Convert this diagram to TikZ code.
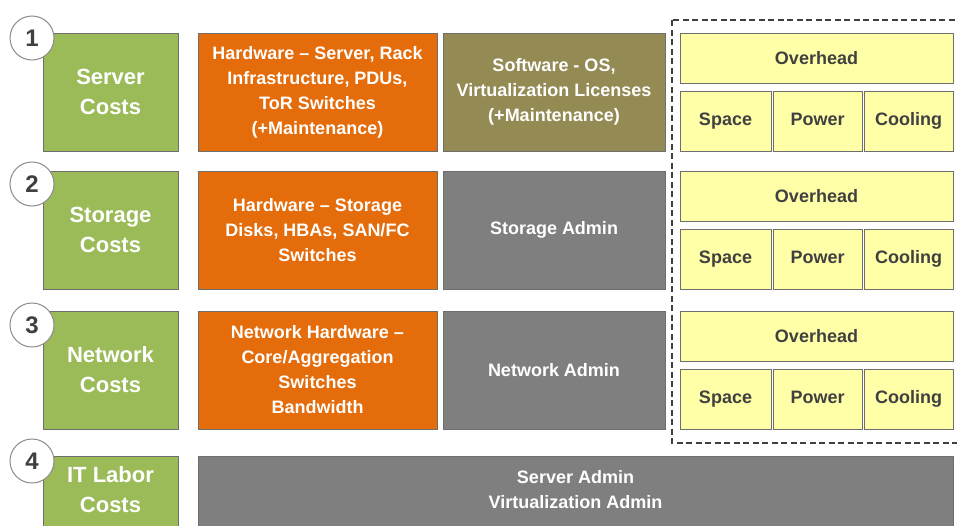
\documentclass[tikz,border=0pt]{standalone}
\usepackage{fontspec}
\setmainfont{Liberation Sans}
\definecolor{cgreen}{HTML}{9BBB59}
\definecolor{corange}{HTML}{E46C0A}
\definecolor{colive}{HTML}{948A54}
\definecolor{cgray}{HTML}{7F7F7F}
\definecolor{cyellow}{HTML}{FFFFA8}
\definecolor{cdark}{HTML}{404040}
\definecolor{cborder}{HTML}{6E6E6E}
\begin{document}
\begin{tikzpicture}[x=1pt,y=-1pt,
  base/.style={rectangle, draw=cborder, line width=0.8pt, inner sep=2pt, align=center, font=\bfseries\fontsize{18}{25}\selectfont},
  costbox/.style={base, fill=cgreen, text=white, minimum width=135pt, minimum height=118pt, font=\bfseries\fontsize{22}{30}\selectfont},
  hwbox/.style={base, fill=corange, text=white, minimum width=239pt, minimum height=118pt},
  swbox/.style={base, fill=colive, text=white, minimum width=222pt, minimum height=118pt},
  adminbox/.style={base, fill=cgray, text=white, minimum width=222pt, minimum height=118pt},
  ovbox/.style={base, fill=cyellow, text=cdark, minimum width=273pt, minimum height=50pt},
  facbox/.style={base, fill=cyellow, text=cdark, minimum height=60pt, text height=13pt, text depth=4pt},
  numcirc/.style={circle, draw=black!45, line width=1pt, fill=white, minimum size=44pt, inner sep=0pt, text=cdark, font=\bfseries\fontsize{24}{24}\selectfont},
  groupframe/.style={draw=cdark, dashed, line width=1.4pt, dash pattern=on 6pt off 3.5pt}
]
\useasboundingbox (0,0) rectangle (957,525);
\clip (0,0) rectangle (957,525);

% dashed frame
\coordinate (fa) at (672,20);
\coordinate (fb) at (965,443);
\draw[groupframe] (fa) rectangle (fb);

% Row 1
\node[costbox] (g1) at (110.5,92) {Server\\Costs};
\node[hwbox] (h1) at (317.5,92) {Hardware -- Server, Rack\\Infrastructure, PDUs,\\ToR Switches\\(+Maintenance)};
\node[swbox] (s1) at (554,92) {Software - OS,\\Virtualization Licenses\\(+Maintenance)};
\node[ovbox] (o1) at (816.5,58) {Overhead};
\node[facbox, minimum width=91pt] (sp1) at (725.5,121) {Space};
\node[facbox, minimum width=89pt] (pw1) at (817.5,121) {Power};
\node[facbox, minimum width=89pt] (co1) at (908.5,121) {Cooling};

% Row 2
\node[costbox] (g2) at (110.5,230) {Storage\\Costs};
\node[hwbox] (h2) at (317.5,230) {Hardware -- Storage\\Disks, HBAs, SAN/FC\\Switches};
\node[adminbox] (s2) at (554,230) {Storage Admin};
\node[ovbox] (o2) at (816.5,196) {Overhead};
\node[facbox, minimum width=91pt] (sp2) at (725.5,259) {Space};
\node[facbox, minimum width=89pt] (pw2) at (817.5,259) {Power};
\node[facbox, minimum width=89pt] (co2) at (908.5,259) {Cooling};

% Row 3
\node[costbox] (g3) at (110.5,370) {Network\\Costs};
\node[hwbox] (h3) at (317.5,370) {Network Hardware --\\Core/Aggregation\\Switches\\Bandwidth};
\node[adminbox] (s3) at (554,370) {Network Admin};
\node[ovbox] (o3) at (816.5,336) {Overhead};
\node[facbox, minimum width=91pt] (sp3) at (725.5,399) {Space};
\node[facbox, minimum width=89pt] (pw3) at (817.5,399) {Power};
\node[facbox, minimum width=89pt] (co3) at (908.5,399) {Cooling};

% Row 4
\node[costbox, minimum height=74pt, text depth=0pt] (g4) at (110.5,493) {};
\node[font=\bfseries\fontsize{22}{30}\selectfont, text=white, align=center] (g4t) at (110.5,490) {IT Labor\\Costs};
\node[base, fill=cgray, text=white, minimum width=755pt, minimum height=74pt] (b4) at (575.5,493) {};
\node[font=\bfseries\fontsize{18}{25}\selectfont, text=white, align=center] (b4t) at (575.5,490) {Server Admin\\Virtualization Admin};

% number circles
\node[numcirc] (n1) at (32,38) {1};
\node[numcirc] (n2) at (32,184) {2};
\node[numcirc] (n3) at (32,325) {3};
\node[numcirc] (n4) at (32,461) {4};
\end{tikzpicture}
\end{document}
